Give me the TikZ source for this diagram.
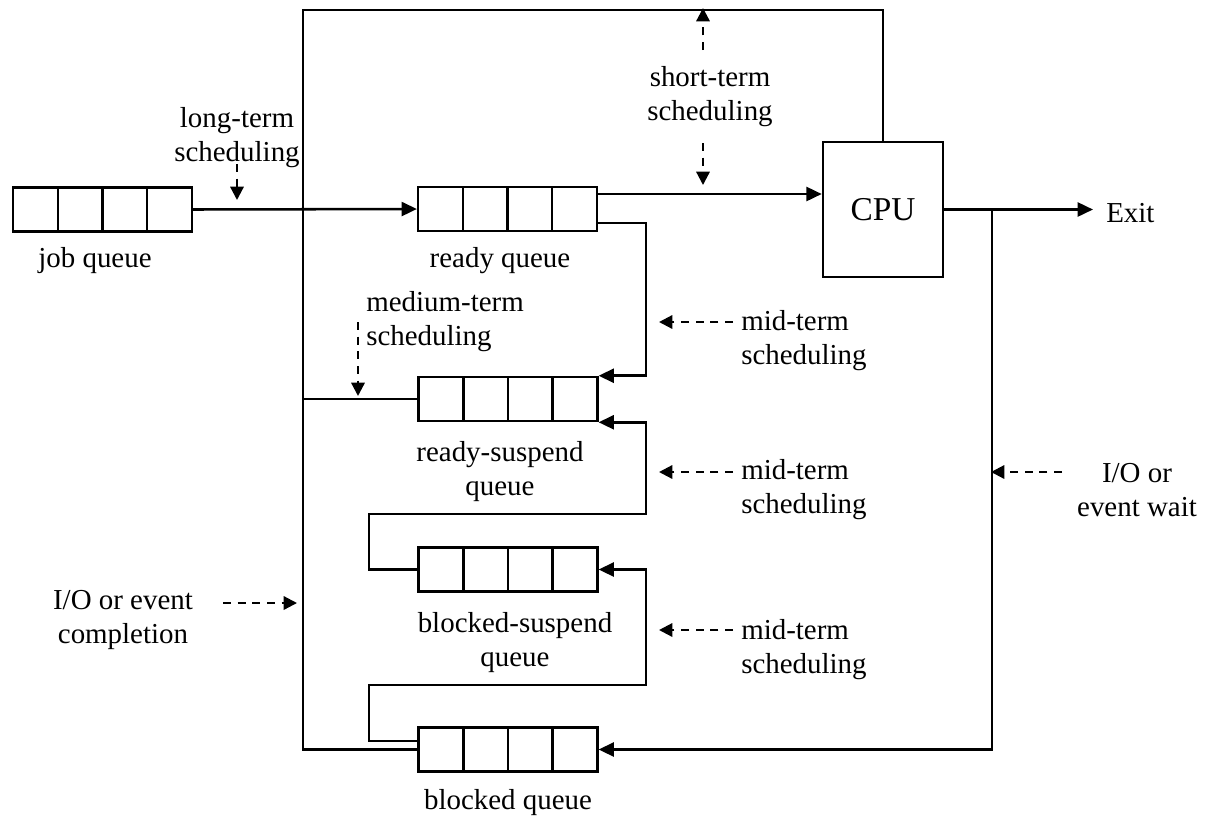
\documentclass[tikz,border=0pt]{standalone}
\usepackage{fontspec}
\setmainfont{Liberation Serif}
\usetikzlibrary{arrows.meta,calc}
\begin{document}
\begin{tikzpicture}[x=0.75pt,y=-0.75pt,
  lw/.style={line width=1.9pt},
  queue/.style={draw, lw, minimum width=134pt, minimum height=33pt, inner sep=0pt,
    path picture={\foreach \f in {0.25,0.5,0.75}{\draw[lw]
      ($(path picture bounding box.south west)!\f!(path picture bounding box.south east)$) --
      ($(path picture bounding box.north west)!\f!(path picture bounding box.north east)$);}}},
  cpubox/.style={draw, lw, minimum width=90pt, minimum height=101pt, inner sep=0pt,
    font=\fontsize{25pt}{30pt}\selectfont},
  lbl/.style={inner sep=0pt, align=center, font=\fontsize{21.7pt}{25.5pt}\selectfont},
  lbll/.style={inner sep=0pt, align=left, anchor=west, font=\fontsize{21.7pt}{25.5pt}\selectfont},
  arr/.style={lw, -{Triangle[length=11.5pt,width=10.5pt]}},
  darr/.style={line width=1.7pt, dash pattern=on 6pt off 5pt, -{Triangle[length=10pt,width=10pt]}},
  line join=miter
]
\useasboundingbox (0,0) rectangle (1205,822);

% queues and CPU
\node[queue] (job) at (102.5,209.5) {};
\node[queue] (ready) at (507.5,209) {};
\node[queue] (rs) at (508,399) {};
\node[queue] (bs) at (508,569.5) {};
\node[queue] (bl) at (508,749.5) {};
\node[cpubox] (cpu) at (883,209.5) {CPU};

% queue labels
\node[lbl] (ljob) at (95,261) {job queue};
\node[lbl] (lready) at (500,261) {ready queue};
\node[lbl] (lrs) at (500,471.5) {ready-suspend\\queue};
\node[lbl] (lbs) at (515,642.5) {blocked-suspend\\queue};
\node[lbl] (lbl) at (508,803) {blocked queue};

% scheduling labels
\node[lbl] (llong) at (237,138) {long-term\\scheduling};
\node[lbl] (lshort) at (710,96.5) {short-term\\scheduling};
\node[lbll] (lmed) at (366,321.5) {medium-term\\scheduling};
\node[lbll] (lmid1) at (741,340.5) {mid-term\\scheduling};
\node[lbll] (lmid2) at (741,490) {mid-term\\scheduling};
\node[lbll] (lmid3) at (741,649.5) {mid-term\\scheduling};
\node[lbl] (lwait) at (1137,490.5) {I/O or\\event wait};
\node[lbl] (lcomp) at (123,619.5) {I/O or event\\completion};
\node[lbll] (lexit) at (1106,213) {Exit};

% helper coordinates
\coordinate (tl) at (303,10);
\coordinate (bl0) at (303,749.5);
\coordinate (rsl) at (303,399);
\coordinate (r1) at ($(ready.east)+(0,-15)$);
\coordinate (r2) at ($(ready.east)+(0,14)$);
\coordinate (r2c) at (646,223);
\coordinate (c1) at (369,514);
\coordinate (c2) at (646,514);
\coordinate (d1) at (369,685);
\coordinate (d2) at (646,685);
\coordinate (blu) at ($(bl.west)+(0,-8.5)$);
\coordinate (j) at (992,209.5);
\coordinate (exitpt) at (1093,209.5);

% solid connectors
\draw[arr] (job.east) -- (ready.west);
\draw[arr] (r1) -- (r1 -| cpu.west);
\draw[lw] (cpu.north) -- (cpu.north |- tl) -- (tl) -- (bl0) -- (bl.west);
\draw[lw] (rsl) -- (rs.west);
\draw[arr] (r2) -- (r2c) |- (rs.north east);
\draw[arr] (bs.west) -| (c1) -- (c2) |- (rs.south east);
\draw[arr] (blu) -| (d1) -- (d2) |- (bs.east);
\draw[arr] (cpu.east) -- (exitpt);
\draw[arr] (j) |- (bl.east);

% dashed scheduling arrows
\coordinate (a1s) at (237,164); \coordinate (a1e) at (237,200);
\coordinate (a2s) at (703,50);  \coordinate (a2e) at (703,8);
\coordinate (a3s) at (703,143); \coordinate (a3e) at (703,185);
\coordinate (a4s) at (358,322); \coordinate (a4e) at (358,396);
\coordinate (a5s) at (733,322); \coordinate (a5e) at (659,322);
\coordinate (a6s) at (733,472); \coordinate (a6e) at (659,472);
\coordinate (a7s) at (733,630); \coordinate (a7e) at (659,630);
\coordinate (a8s) at (1062,472); \coordinate (a8e) at (991,472);
\coordinate (a9s) at (223,603); \coordinate (a9e) at (297,603);
\foreach \k in {1,...,9}{\draw[darr] (a\k s) -- (a\k e);}
\end{tikzpicture}
\end{document}
